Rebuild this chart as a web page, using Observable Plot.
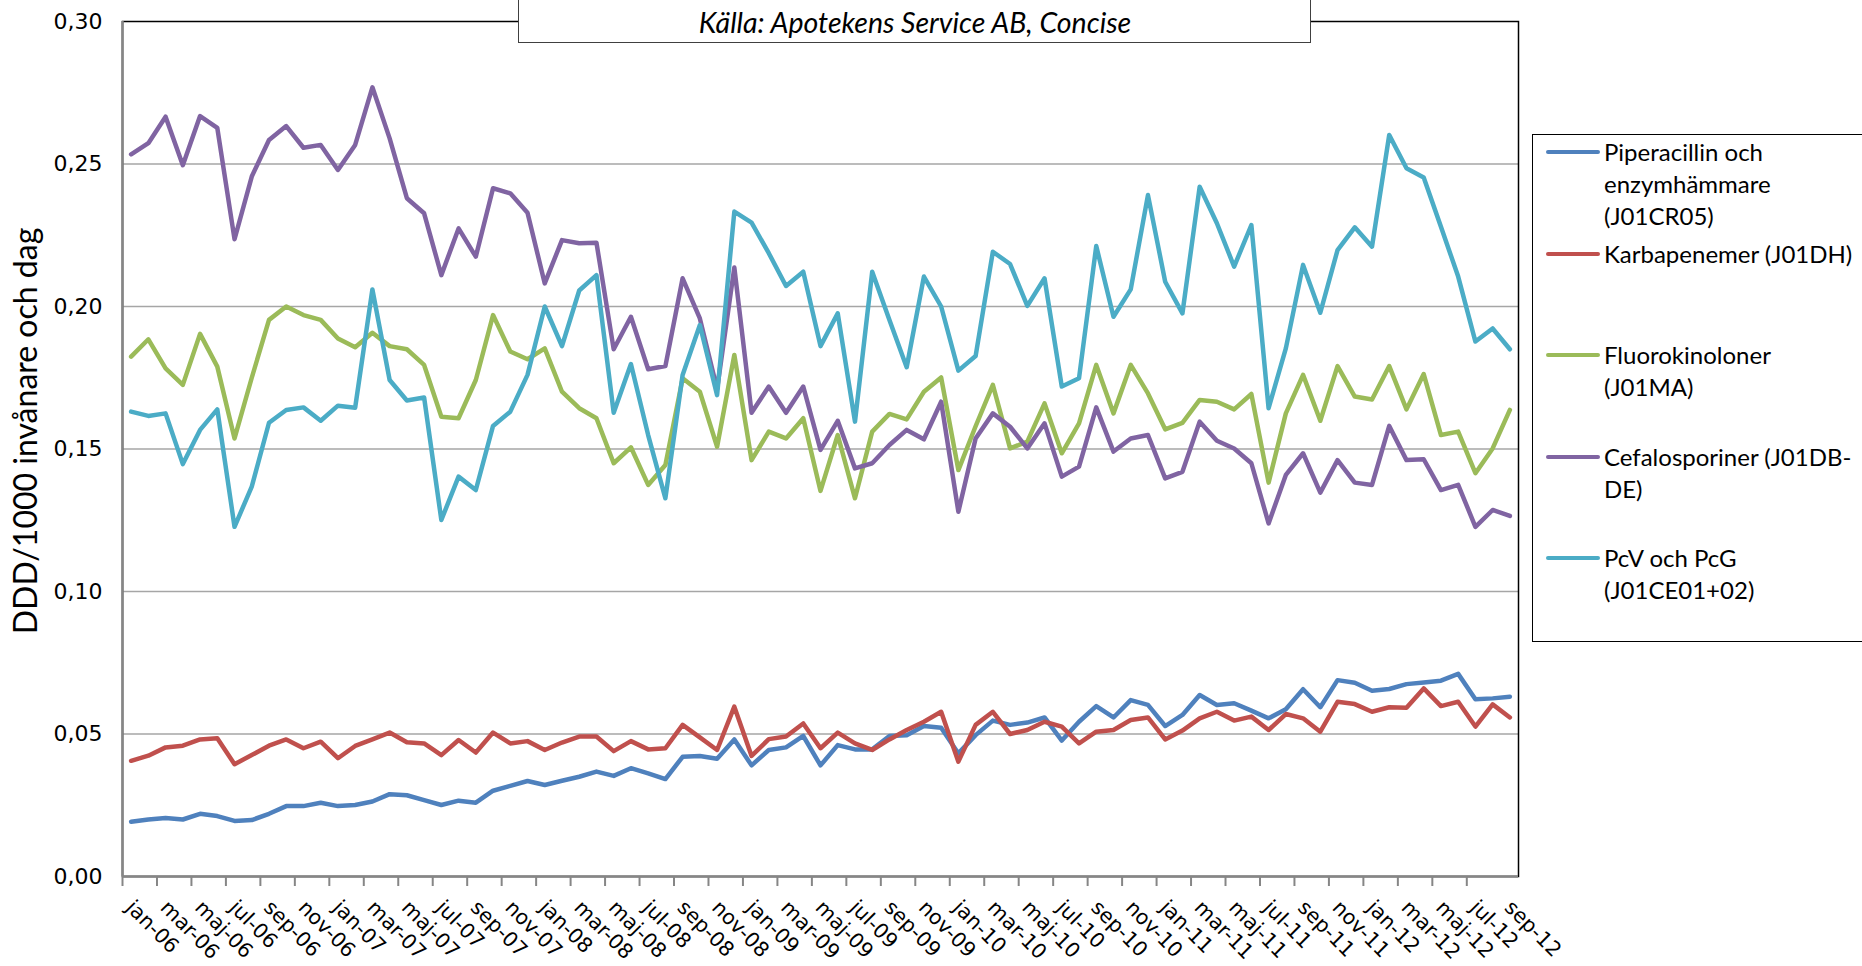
<!DOCTYPE html>
<html>
<head>
<meta charset="utf-8">
<script src="https://cdn.jsdelivr.net/npm/d3@7"></script>
<script src="https://cdn.jsdelivr.net/npm/@observablehq/plot@0.6"></script>
<style>
html, body { margin: 0; padding: 0; overflow: hidden; background: #fff; }
#wrap { position: relative; width: 1862px; height: 966px; }
#chart svg { display: block; }
#titlebox { position: absolute; left: 518px; top: -20px; width: 791px; height: 61px; border: 1.5px solid #404040; background: #fff; }
#title2 { position: absolute; left: 518px; top: 6px; width: 794px; text-align: center; font-family: Lato, sans-serif; font-style: italic; font-size: 28.5px; line-height: 32px; color: #000; }
#legend { position: absolute; left: 1532px; top: 134px; width: 340px; height: 506px; border: 1.5px solid #000; background: #fff; }
.lg-line { position: absolute; left: 1546px; width: 54px; height: 4.5px; border-radius: 3px; }
.lg-text { position: absolute; left: 1604px; font-family: Lato, sans-serif; font-size: 24px; line-height: 32px; color: #000; white-space: nowrap; }
</style>
</head>
<body>
<div id="wrap">
  <div id="chart"></div>
  <div id="titlebox"></div>
  <div id="title2"></div>
  <div id="legend"></div>
</div>
<script>
const categories = [
  "jan-06","feb-06","mar-06","apr-06","maj-06","jun-06","jul-06","aug-06","sep-06","okt-06","nov-06","dec-06",
  "jan-07","feb-07","mar-07","apr-07","maj-07","jun-07","jul-07","aug-07","sep-07","okt-07","nov-07","dec-07",
  "jan-08","feb-08","mar-08","apr-08","maj-08","jun-08","jul-08","aug-08","sep-08","okt-08","nov-08","dec-08",
  "jan-09","feb-09","mar-09","apr-09","maj-09","jun-09","jul-09","aug-09","sep-09","okt-09","nov-09","dec-09",
  "jan-10","feb-10","mar-10","apr-10","maj-10","jun-10","jul-10","aug-10","sep-10","okt-10","nov-10","dec-10",
  "jan-11","feb-11","mar-11","apr-11","maj-11","jun-11","jul-11","aug-11","sep-11","okt-11","nov-11","dec-11",
  "jan-12","feb-12","mar-12","apr-12","maj-12","jun-12","jul-12","aug-12","sep-12"
];

const piperacillin = [
  0.0192,0.0200,0.0205,0.0200,0.0220,0.0212,0.0195,0.0198,0.0220,0.0247,
  0.0247,0.0259,0.0247,0.0251,0.0263,0.0289,0.0285,0.0268,0.0251,0.0266,
  0.0259,0.0301,0.0318,0.0335,0.0321,0.0336,0.0350,0.0368,0.0353,0.0380,
  0.0362,0.0342,0.0420,0.0423,0.0413,0.0481,0.0390,0.0444,0.0453,0.0493,
  0.0390,0.0461,0.0446,0.0446,0.0493,0.0496,0.0528,0.0522,0.0432,0.0496,
  0.0547,0.0532,0.0540,0.0558,0.0477,0.0543,0.0598,0.0558,0.0619,0.0602,
  0.0528,0.0567,0.0637,0.0602,0.0608,0.0582,0.0555,0.0587,0.0657,0.0594,
  0.0689,0.0680,0.0652,0.0658,0.0675,0.0681,0.0687,0.0711,0.0622,0.0625,
  0.0631
];
const karbapenemer = [
  0.0406,0.0424,0.0453,0.0459,0.0481,0.0485,0.0394,0.0426,0.0459,0.0481,
  0.0450,0.0473,0.0415,0.0458,0.0481,0.0505,0.0471,0.0467,0.0426,0.0479,
  0.0435,0.0505,0.0467,0.0475,0.0444,0.0470,0.0491,0.0491,0.0440,0.0475,
  0.0446,0.0450,0.0532,0.0488,0.0444,0.0596,0.0423,0.0482,0.0491,0.0537,
  0.0450,0.0505,0.0467,0.0444,0.0481,0.0514,0.0543,0.0578,0.0403,0.0532,
  0.0578,0.0500,0.0514,0.0543,0.0526,0.0467,0.0508,0.0514,0.0549,0.0558,
  0.0481,0.0512,0.0555,0.0578,0.0547,0.0561,0.0514,0.0570,0.0555,0.0508,
  0.0613,0.0605,0.0578,0.0594,0.0592,0.0660,0.0598,0.0613,0.0526,0.0604,
  0.0558
];
const fluorokinoloner = [
  0.1824,0.1885,0.1783,0.1725,0.1904,0.1789,0.1537,0.1750,0.1953,0.2000,
  0.1970,0.1953,0.1888,0.1857,0.1908,0.1861,0.1850,0.1795,0.1613,0.1608,
  0.1742,0.1970,0.1842,0.1815,0.1853,0.1701,0.1643,0.1608,0.1450,0.1506,
  0.1374,0.1444,0.1748,0.1701,0.1508,0.1830,0.1461,0.1561,0.1537,0.1608,
  0.1353,0.1549,0.1327,0.1561,0.1623,0.1604,0.1701,0.1751,0.1426,0.1580,
  0.1725,0.1502,0.1526,0.1660,0.1485,0.1590,0.1795,0.1625,0.1795,0.1695,
  0.1569,0.1592,0.1672,0.1666,0.1639,0.1693,0.1382,0.1625,0.1760,0.1599,
  0.1791,0.1684,0.1674,0.1791,0.1639,0.1763,0.1549,0.1561,0.1415,0.1502,
  0.1637
];
const cefalosporiner = [
  0.2534,0.2573,0.2666,0.2496,0.2668,0.2627,0.2236,0.2456,0.2584,0.2633,
  0.2557,0.2567,0.2479,0.2567,0.2769,0.2590,0.2380,0.2327,0.2110,0.2274,
  0.2175,0.2415,0.2397,0.2329,0.2081,0.2233,0.2222,0.2224,0.1850,0.1964,
  0.1780,0.1791,0.2099,0.1958,0.1710,0.2137,0.1627,0.1719,0.1627,0.1719,
  0.1497,0.1599,0.1432,0.1450,0.1514,0.1567,0.1534,0.1666,0.1280,0.1537,
  0.1625,0.1578,0.1502,0.1590,0.1403,0.1438,0.1646,0.1491,0.1537,0.1549,
  0.1397,0.1420,0.1596,0.1529,0.1502,0.1450,0.1239,0.1409,0.1485,0.1347,
  0.1461,0.1382,0.1374,0.1581,0.1461,0.1464,0.1356,0.1374,0.1227,0.1286,
  0.1265
];
const pcvPcg = [
  0.1631,0.1616,0.1625,0.1447,0.1567,0.1639,0.1227,0.1368,0.1592,0.1637,
  0.1646,0.1599,0.1652,0.1645,0.2060,0.1742,0.1670,0.1681,0.1251,0.1403,
  0.1356,0.1581,0.1631,0.1760,0.2000,0.1861,0.2056,0.2110,0.1627,0.1798,
  0.1549,0.1327,0.1760,0.1935,0.1689,0.2333,0.2294,0.2187,0.2072,0.2122,
  0.1861,0.1976,0.1596,0.2122,0.1953,0.1787,0.2105,0.2000,0.1775,0.1826,
  0.2192,0.2149,0.2002,0.2099,0.1719,0.1748,0.2212,0.1964,0.2060,0.2391,
  0.2087,0.1976,0.2420,0.2292,0.2140,0.2286,0.1643,0.1853,0.2146,0.1978,
  0.2198,0.2278,0.2210,0.2602,0.2485,0.2453,0.2280,0.2105,0.1877,0.1923,
  0.1850
];

const seriesNames = [
  "Piperacillin och\nenzymhämmare\n(J01CR05)",
  "Karbapenemer (J01DH)",
  "Fluorokinoloner\n(J01MA)",
  "Cefalosporiner (J01DB-\nDE)",
  "PcV och PcG\n(J01CE01+02)"
];
const seriesValues = [piperacillin, karbapenemer, fluorokinoloner, cefalosporiner, pcvPcg];
const seriesColors = ["#4F81BD", "#C0504D", "#9BBB59", "#8064A2", "#4BACC6"];

const yTicks = [0, 0.05, 0.10, 0.15, 0.20, 0.25, 0.30];
const yTickLabels = ["0,00", "0,05", "0,10", "0,15", "0,20", "0,25", "0,30"];
const yTitle = "DDD/1000 invånare och dag";
const sourceText = "Källa: Apotekens Service AB, Concise";

const labelIdx = categories.map((c, i) => i).filter(i => i % 2 === 0);
const tickBoundaries = labelIdx.filter(i => i < categories.length - 1).map(i => i - 0.5);

const lineMarks = seriesValues.map((vals, s) =>
  Plot.line(vals, {
    x: (d, i) => i,
    y: d => d,
    stroke: seriesColors[s],
    strokeWidth: 4.5,
    strokeLinejoin: "round",
    strokeLinecap: "round"
  })
);

const chart = Plot.plot({
  width: 1862,
  height: 966,
  marginLeft: 122,
  marginRight: 344,
  marginTop: 21,
  marginBottom: 90,
  style: { fontFamily: "DejaVu Sans, sans-serif", color: "#000", background: "white", overflow: "visible" },
  x: { type: "linear", domain: [-0.5, categories.length - 0.5], axis: null },
  y: { domain: [0, 0.3], axis: null },
  marks: [
    Plot.ruleY(yTicks.slice(1, -1), { stroke: "#a6a6a6", strokeWidth: 1.5 }),
    Plot.frame({ stroke: "#000", strokeWidth: 1.5 }),
    Plot.ruleX([-0.5], { stroke: "#868686", strokeWidth: 2.5 }),
    Plot.ruleY([0], { stroke: "#868686", strokeWidth: 2.5 }),
    Plot.axisX(tickBoundaries, { tickSize: 10, tickFormat: () => "", stroke: "#868686", strokeWidth: 2, label: null }),
    Plot.axisY(yTicks, {
      tickSize: 0, tickPadding: 20, fontSize: 22, label: null,
      tickFormat: d => yTickLabels[yTicks.indexOf(d)]
    }),
    ...lineMarks,
    Plot.text(labelIdx, {
      x: d => d,
      text: d => categories[d],
      frameAnchor: "bottom",
      rotate: 45,
      textAnchor: "start",
      lineAnchor: "top",
      dx: 4,
      dy: 22,
      fontSize: 20.5
    }),
    Plot.text([yTitle], {
      frameAnchor: "left",
      rotate: -90,
      dx: -96,
      dy: -18,
      textAnchor: "middle",
      lineAnchor: "middle",
      fontFamily: "Lato, sans-serif",
      fontSize: 32
    })
  ]
});
document.getElementById("chart").appendChild(chart);

document.getElementById("title2").textContent = sourceText;

// legend
const legendY = [152, 254, 355, 457, 558];
const wrap = document.getElementById("wrap");
seriesNames.forEach((name, s) => {
  const ln = document.createElement("div");
  ln.className = "lg-line";
  ln.style.top = (legendY[s] - 2.25) + "px";
  ln.style.background = seriesColors[s];
  wrap.appendChild(ln);
  const tx = document.createElement("div");
  tx.className = "lg-text";
  tx.style.top = (legendY[s] - 16) + "px";
  tx.innerHTML = name.split("\n").map(t => t.replace(/&/g, "&amp;")).join("<br>");
  wrap.appendChild(tx);
});
</script>
</body>
</html>
